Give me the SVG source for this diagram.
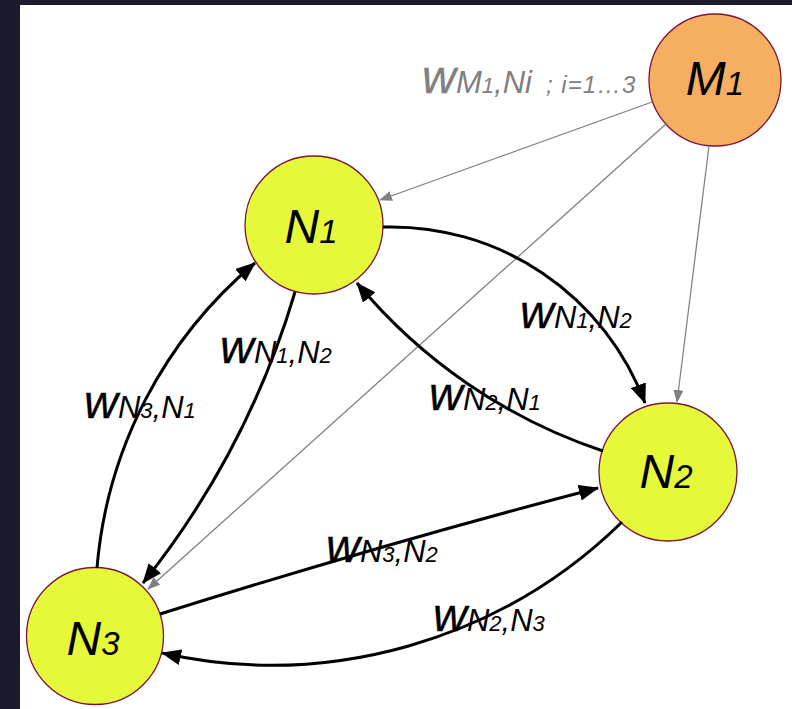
<svg xmlns="http://www.w3.org/2000/svg" width="792" height="709" viewBox="0 0 792 709">
  <defs>
    <style>
      .node circle { stroke: #7b1535; stroke-width: 1.3; }
      .yellow { fill: #e6f83a; }
      .orange { fill: #f6ae63; }
      .txt { font-family: "Liberation Sans", Arial, Helvetica, sans-serif; font-style: italic; fill: #000; }
      .gray { fill: #808080; }
      .w { font-size: 47px; stroke: #000; stroke-width: 0.3; }
      .gray .w { stroke: #808080; }
      .sub { font-size: 31px; }
      .dig { font-size: 22px; }
      .edge { fill: none; stroke: #000; stroke-width: 3; marker-end: url(#arrowBlack); }
      .link { fill: none; stroke: #808080; stroke-width: 1.3; marker-end: url(#arrowGray); }
    </style>
    <marker id="arrowBlack" markerUnits="userSpaceOnUse" markerWidth="20" markerHeight="16" refX="19" refY="8" orient="auto">
      <path d="M0,0 L20,8 L0,16 z" fill="#000"/>
    </marker>
    <marker id="arrowGray" markerUnits="userSpaceOnUse" markerWidth="13" markerHeight="10" refX="12" refY="5" orient="auto">
      <path d="M0,0 L13,5 L0,10 z" fill="#808080"/>
    </marker>
  </defs>

  <!-- frame -->
  <rect x="0" y="0" width="792" height="709" fill="#1c1b2e"/>
  <rect x="20" y="5" width="772" height="704" fill="#ffffff"/>

  <!-- nodes -->
  <g id="M1" class="node">
    <circle class="orange" cx="715" cy="80" r="66"/>
    <text class="txt" x="715" y="95" text-anchor="middle" font-size="48">M<tspan font-size="33">1</tspan></text>
  </g>
  <g id="N1" class="node">
    <circle class="yellow" cx="314" cy="225" r="69"/>
    <text class="txt" x="311" y="243" text-anchor="middle" font-size="48">N<tspan font-size="33">1</tspan></text>
  </g>
  <g id="N2" class="node">
    <circle class="yellow" cx="668" cy="472" r="69"/>
    <text class="txt" x="666" y="488" text-anchor="middle" font-size="48">N<tspan font-size="33">2</tspan></text>
  </g>
  <g id="N3" class="node">
    <circle class="yellow" cx="95" cy="636" r="68.5"/>
    <text class="txt" x="93" y="655" text-anchor="middle" font-size="48">N<tspan font-size="33">3</tspan></text>
  </g>

  <!-- connectors -->
  <g id="connectors">
    <line class="link" x1="652" y1="102" x2="380" y2="200"/>
    <line class="link" x1="667" y1="123" x2="148" y2="589"/>
    <line class="link" x1="709" y1="146" x2="677" y2="402"/>

    <path class="edge" d="M383,227 A271,271 0 0,1 645,403"/>
    <path class="edge" d="M603,451 A544,544 0 0,1 357,283"/>
    <path class="edge" d="M295,292 A855,855 0 0,1 143,583"/>
    <path class="edge" d="M97,568 A446,446 0 0,1 255,263"/>
    <path class="edge" d="M160,614 Q390,542 598,488"/>
    <path class="edge" d="M622,522 A501,501 0 0,1 162,653"/>
  </g>

  <!-- weight labels -->
  <g id="labels">
    <text class="txt gray" x="422" y="93"><tspan class="w">w</tspan><tspan class="sub">M</tspan><tspan class="dig">1</tspan><tspan class="sub">,Ni</tspan><tspan x="546" font-size="24" letter-spacing="1">; i=1…3</tspan></text>
    <text class="txt" x="520" y="328"><tspan class="w">w</tspan><tspan class="sub">N</tspan><tspan class="dig">1</tspan><tspan class="sub">,N</tspan><tspan class="dig">2</tspan></text>
    <text class="txt" x="429" y="410"><tspan class="w">w</tspan><tspan class="sub">N</tspan><tspan class="dig">2</tspan><tspan class="sub">,N</tspan><tspan class="dig">1</tspan></text>
    <text class="txt" x="220" y="363"><tspan class="w">w</tspan><tspan class="sub">N</tspan><tspan class="dig">1</tspan><tspan class="sub">,N</tspan><tspan class="dig">2</tspan></text>
    <text class="txt" x="84" y="418"><tspan class="w">w</tspan><tspan class="sub">N</tspan><tspan class="dig">3</tspan><tspan class="sub">,N</tspan><tspan class="dig">1</tspan></text>
    <text class="txt" x="326" y="562"><tspan class="w">w</tspan><tspan class="sub">N</tspan><tspan class="dig">3</tspan><tspan class="sub">,N</tspan><tspan class="dig">2</tspan></text>
    <text class="txt" x="433" y="631"><tspan class="w">w</tspan><tspan class="sub">N</tspan><tspan class="dig">2</tspan><tspan class="sub">,N</tspan><tspan class="dig">3</tspan></text>
  </g>
</svg>
